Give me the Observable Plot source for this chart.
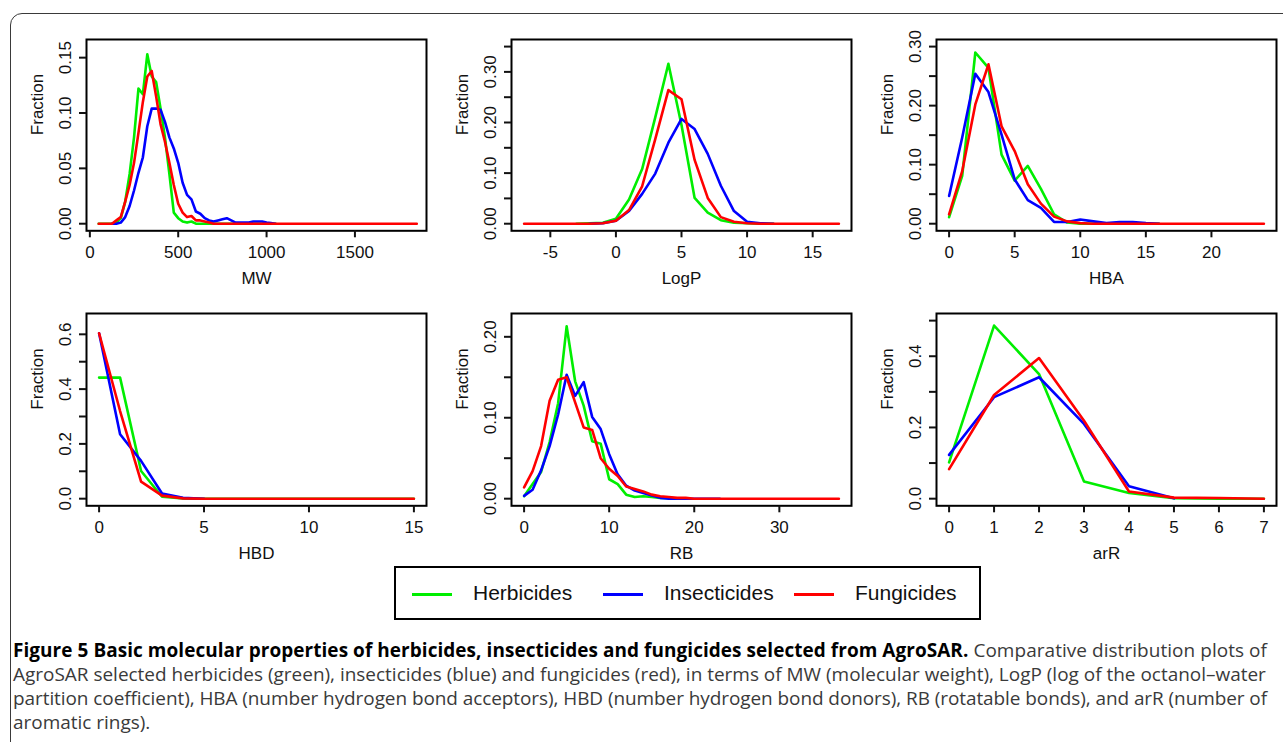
<!DOCTYPE html>
<html>
<head>
<meta charset="utf-8">
<script src="https://cdn.jsdelivr.net/npm/d3@7"></script>
<script src="https://cdn.jsdelivr.net/npm/@observablehq/plot@0.6"></script>
<style>
  html, body { margin: 0; padding: 0; background: #fff; }
  #root { position: relative; width: 1283px; height: 742px; overflow: hidden; background: #fff; }
  #outer { position: absolute; left: 10px; top: 13px; width: 1320px; height: 800px; border: 1.5px solid #3a3a3a; border-radius: 12px; box-sizing: border-box; }
  .panel { position: absolute; }
  #legend { position: absolute; left: 394px; top: 566px; width: 587px; height: 54px; border: 2px solid #000; box-sizing: border-box; font-family: "Liberation Sans", Arial, sans-serif; font-size: 21px; color: #111; }
  .lg-line { position: absolute; top: 24.5px; width: 40px; height: 3px; }
  .lg-text { position: absolute; top: 0; line-height: 50px; white-space: nowrap; }
  .cap { position: absolute; left: 13px; font-family: "Open Sans", sans-serif; font-size: 16px; line-height: 24px; color: #3a3a3a; white-space: nowrap; }
  .cap b { color: #000; font-weight: 700; }
</style>
</head>
<body>
<div id="root"><div id="outer"></div></div>
<script>
// ---------- series ----------
const series = ["Herbicides", "Insecticides", "Fungicides"];
const seriesColors = ["#00ee00", "#0000ff", "#ff0000"];

// ---------- MW ----------
const mwX = [50,125,150,175,200,225,250,275,300,325,350,375,400,425,450,475,500,525,550,575,
             600,625,650,675,700,725,750,775,800,825,850,875,900,925,950,975,1000,1025,1050,1850];
const mwHerb = [0,0,0.001,0.005,0.02,0.045,0.078,0.122,0.117,0.153,0.133,0.128,0.104,0.078,0.045,0.01,0.005,0.002,0.001,0.002,
                0,0,0,0,0,0,0,0,0,0,0,0,0,0,0,0,0,0,0,null];
const mwInsect = [null,0,0,0.001,0.006,0.016,0.03,0.046,0.06,0.088,0.104,0.104,0.103,0.092,0.078,0.068,0.055,0.037,0.026,0.022,
                  0.011,0.009,0.005,0.003,0.002,0.003,0.004,0.005,0.003,0.001,0.001,0.001,0.001,0.002,0.002,0.002,0.001,0.0005,0,null];
const mwFung = [0,0,0.003,0.006,0.02,0.035,0.055,0.082,0.11,0.133,0.138,0.115,0.09,0.074,0.055,0.035,0.018,0.01,0.006,0.007,
                0.003,0.003,0.002,0.001,0,0,0,0,0,0,0,0,0,0,0,0,0,0,0,0];
const mwXTicks = [0, 500, 1000, 1500];
const mwXLabels = ["0", "500", "1000", "1500"];
const mwYTicks = [0, 0.05, 0.10, 0.15];
const mwYLabels = ["0.00", "0.05", "0.10", "0.15"];

// ---------- LogP ----------
const lpX = [-7,-6,-5,-4,-3,-2,-1,0,1,2,3,4,5,6,7,8,9,10,11,12,13,14,15,16,17];
const lpHerb = [null,null,null,null,0,0.001,0.002,0.01,0.048,0.108,0.21,0.316,0.195,0.051,0.022,0.007,0.002,0.001,0,0,null,null,null,null,null];
const lpInsect = [null,null,null,null,null,0,0.001,0.006,0.025,0.059,0.099,0.16,0.207,0.187,0.138,0.075,0.025,0.004,0.001,0,null,null,null,null,null];
const lpFung = [0,0,0,0,0,0,0.001,0.006,0.027,0.074,0.167,0.264,0.246,0.126,0.051,0.013,0.004,0.001,0,0,0,0,0,0,0];
const lpXTicks = [-5, 0, 5, 10, 15];
const lpXLabels = ["-5", "0", "5", "10", "15"];
const lpYTicks = [0, 0.05, 0.10, 0.15, 0.20, 0.25, 0.30, 0.35];
const lpYLabels = ["0.00", "", "0.10", "", "0.20", "", "0.30", ""];

// ---------- HBA ----------
const hbaX = [0,1,2,3,4,5,6,7,8,9,10,11,12,13,14,15,16,17,18,19,20,21,22,23,24];
const hbaHerb = [0.011,0.081,0.290,0.264,0.117,0.073,0.098,0.059,0.016,0.002,0,0,0,0,0,0,0,null,null,null,null,null,null,null,null];
const hbaInsect = [0.047,0.146,0.254,0.223,0.151,0.075,0.040,0.027,0.003,0.003,0.007,0.004,0.001,0.003,0.003,0.001,0,null,null,null,null,null,null,null,null];
const hbaFung = [0.016,0.089,0.202,0.270,0.165,0.123,0.067,0.034,0.012,0.004,0.001,0,0,0,0,0,0,0,0,0,0,0,0,0,0];
const hbaXTicks = [0, 5, 10, 15, 20];
const hbaXLabels = ["0", "5", "10", "15", "20"];
const hbaYTicks = [0, 0.05, 0.10, 0.15, 0.20, 0.25, 0.30];
const hbaYLabels = ["0.00", "", "0.10", "", "0.20", "", "0.30"];

// ---------- HBD ----------
const hbdX = [0,1,2,3,4,5,6,7,8,9,10,11,12,13,14,15];
const hbdHerb = [0.442,0.442,0.101,0.007,0.001,0,0,0,0,0,0,0,0,0,0,0];
const hbdInsect = [0.604,0.235,0.138,0.019,0.003,0,null,null,null,null,null,null,null,null,null,null];
const hbdFung = [0.604,0.32,0.062,0.011,0.001,0,0,0,0,0,0,0,0,0,0,0];
const hbdXTicks = [0, 5, 10, 15];
const hbdXLabels = ["0", "5", "10", "15"];
const hbdYTicks = [0, 0.1, 0.2, 0.3, 0.4, 0.5, 0.6];
const hbdYLabels = ["0.0", "", "0.2", "", "0.4", "", "0.6"];

// ---------- RB ----------
const rbX = [0,1,2,3,4,5,6,7,8,9,10,11,12,13,14,15,16,17,18,19,20,21,22,23,24,25,26,27,28,29,30,31,32,33,34,35,36,37];
const rbHerb = [0.003,0.018,0.033,0.07,0.118,0.213,0.145,0.115,0.071,0.068,0.024,0.018,0.005,0.002,0.003,0.002,0.001,0.001,0,0,
                null,null,null,null,null,null,null,null,null,null,null,null,null,null,null,null,null,null];
const rbInsect = [0.0035,0.011,0.035,0.065,0.104,0.153,0.127,0.144,0.101,0.086,0.055,0.030,0.016,0.010,0.007,0.004,0.001,0,0,0,0,0,0,0,
                  null,null,null,null,null,null,null,null,null,null,null,null,null,null];
const rbFung = [0.014,0.034,0.065,0.121,0.147,0.150,0.119,0.088,0.085,0.050,0.037,0.028,0.015,0.012,0.009,0.005,0.003,0.002,0.001,0.001,
                0,0,0,0,0,0,0,0,0,0,0,0,0,0,0,0,0,0];
const rbXTicks = [0, 10, 20, 30];
const rbXLabels = ["0", "10", "20", "30"];
const rbYTicks = [0, 0.05, 0.10, 0.15, 0.20];
const rbYLabels = ["0.00", "", "0.10", "", "0.20"];

// ---------- arR ----------
const arX = [0,1,2,3,4,5,6,7];
const arHerb = [0.102,0.486,0.350,0.048,0.016,0.001,0,0];
const arInsect = [0.123,0.285,0.341,0.210,0.035,0.001,null,null];
const arFung = [0.083,0.291,0.395,0.219,0.020,0.003,0.002,0];
const arXTicks = [0, 1, 2, 3, 4, 5, 6, 7];
const arXLabels = ["0", "1", "2", "3", "4", "5", "6", "7"];
const arYTicks = [0, 0.1, 0.2, 0.3, 0.4, 0.5];
const arYLabels = ["0.0", "", "0.2", "", "0.4", ""];

const yLabel = "Fraction";
const legendLabels = series;

// ---------- layout (scale domains and panel placement) ----------
const panels = [
  {name: "MW",   x: mwX,  ys: [mwHerb, mwInsect, mwFung],   xt: mwXTicks,  xl: mwXLabels,  yt: mwYTicks,  yl: mwYLabels,  xd: [-19, 1905],     yd: [-0.0064, 0.1664], col: 0, row: 0},
  {name: "LogP", x: lpX,  ys: [lpHerb, lpInsect, lpFung],   xt: lpXTicks,  xl: lpXLabels,  yt: lpYTicks,  yl: lpYLabels,  xd: [-7.96, 17.96],  yd: [-0.014, 0.364],   col: 1, row: 0},
  {name: "HBA",  x: hbaX, ys: [hbaHerb, hbaInsect, hbaFung], xt: hbaXTicks, xl: hbaXLabels, yt: hbaYTicks, yl: hbaYLabels, xd: [-0.96, 24.96],  yd: [-0.012, 0.312],   col: 2, row: 0},
  {name: "HBD",  x: hbdX, ys: [hbdHerb, hbdInsect, hbdFung], xt: hbdXTicks, xl: hbdXLabels, yt: hbdYTicks, yl: hbdYLabels, xd: [-0.6, 15.6],    yd: [-0.026, 0.676],   col: 0, row: 1},
  {name: "RB",   x: rbX,  ys: [rbHerb, rbInsect, rbFung],   xt: rbXTicks,  xl: rbXLabels,  yt: rbYTicks,  yl: rbYLabels,  xd: [-1.48, 38.48],  yd: [-0.0088, 0.2288], col: 1, row: 1},
  {name: "arR",  x: arX,  ys: [arHerb, arInsect, arFung],   xt: arXTicks,  xl: arXLabels,  yt: arYTicks,  yl: arYLabels,  xd: [-0.28, 7.28],   yd: [-0.02, 0.52],     col: 2, row: 1}
];
const colLeft = [86, 511, 936];
const rowTop = [38.7, 312.7];
const rowH = [191.3, 192.3];
const boxW = 340;
const mL = 80, mR = 6, mT = 10, mB = 62;

const root = document.getElementById("root");

function lookup(ticks, labels) {
  return d => {
    const i = ticks.findIndex(t => Math.abs(t - d) < 1e-9);
    return i >= 0 ? labels[i] : "";
  };
}

for (const p of panels) {
  const rows = [];
  p.ys.forEach((ys, si) => {
    ys.forEach((v, i) => {
      if (v != null) rows.push({x: p.x[i], y: v, series: series[si]});
    });
  });
  const h = rowH[p.row];
  const chart = Plot.plot({
    width: mL + boxW + mR,
    height: mT + h + mB,
    marginLeft: mL, marginRight: mR, marginTop: mT, marginBottom: mB,
    x: {domain: p.xd},
    y: {domain: p.yd},
    color: {domain: series, range: seriesColors},
    style: {fontFamily: "'Liberation Sans', Arial, sans-serif", fontSize: "17px", color: "#111", background: "transparent", overflow: "visible"},
    marks: [
      Plot.line(rows, {x: "x", y: "y", z: "series", stroke: "series", strokeWidth: 2.6, strokeLinejoin: "round", strokeLinecap: "round"}),
      Plot.frame({stroke: "#000", strokeWidth: 2}),
      Plot.axisX({ticks: p.xt, tickFormat: lookup(p.xt, p.xl), tickSize: 7, tickPadding: 8, strokeWidth: 2, label: null, fontSize: 17}),
      Plot.axisY({ticks: p.yt, tickFormat: lookup(p.yt, p.yl), tickSize: 7, tickPadding: 9, tickRotate: -90, strokeWidth: 2, label: null, fontSize: 17}),
      Plot.text([p.name], {frameAnchor: "bottom", dy: 47.5, lineAnchor: "middle", fontSize: 17}),
      Plot.text([yLabel], {frameAnchor: "left", dx: -48.5, rotate: -90, lineAnchor: "middle", fontSize: 17})
    ]
  });
  chart.classList.add("panel");
  chart.style.left = (colLeft[p.col] - mL) + "px";
  chart.style.top = (rowTop[p.row] - mT) + "px";
  root.appendChild(chart);
}

// ---------- legend ----------
const legend = document.createElement("div");
legend.id = "legend";
legendLabels.forEach((name, i) => {
  const ln = document.createElement("div");
  ln.className = "lg-line";
  ln.style.left = (16 + 191 * i) + "px";
  ln.style.background = seriesColors[i];
  legend.appendChild(ln);
  const tx = document.createElement("div");
  tx.className = "lg-text";
  tx.style.left = (77 + 191 * i) + "px";
  tx.textContent = name;
  legend.appendChild(tx);
});
root.appendChild(legend);

// ---------- caption ----------
const captionLines = [
  ["Figure 5 Basic molecular properties of herbicides, insecticides and fungicides selected from AgroSAR.", " Comparative distribution plots of"],
  ["", "AgroSAR selected herbicides (green), insecticides (blue) and fungicides (red), in terms of MW (molecular weight), LogP (log of the octanol\u2013water"],
  ["", "partition coefficient), HBA (number hydrogen bond acceptors), HBD (number hydrogen bond donors), RB (rotatable bonds), and arR (number of"],
  ["", "aromatic rings)."]
];
const capTops = [638, 662, 686, 710];
const capLeft = 13, capRight = 1267;
const capEls = captionLines.map(([bold, rest], i) => {
  const d = document.createElement("div");
  d.className = "cap";
  d.style.top = capTops[i] + "px";
  if (bold) { const b = document.createElement("b"); b.textContent = bold; d.appendChild(b); }
  d.appendChild(document.createTextNode(rest));
  root.appendChild(d);
  return d;
});
// fit the font size on the second line, then fine-tune lines 1 and 3 with letter spacing
const target = capRight - capLeft;
const w2 = capEls[1].getBoundingClientRect().width;
const fs = 16 * target / w2;
capEls.forEach(d => { d.style.fontSize = fs.toFixed(2) + "px"; });
[0, 2].forEach(i => {
  const d = capEls[i];
  const w = d.getBoundingClientRect().width;
  const n = d.textContent.length;
  d.style.letterSpacing = ((target - w) / n).toFixed(3) + "px";
});
</script>
</body>
</html>
